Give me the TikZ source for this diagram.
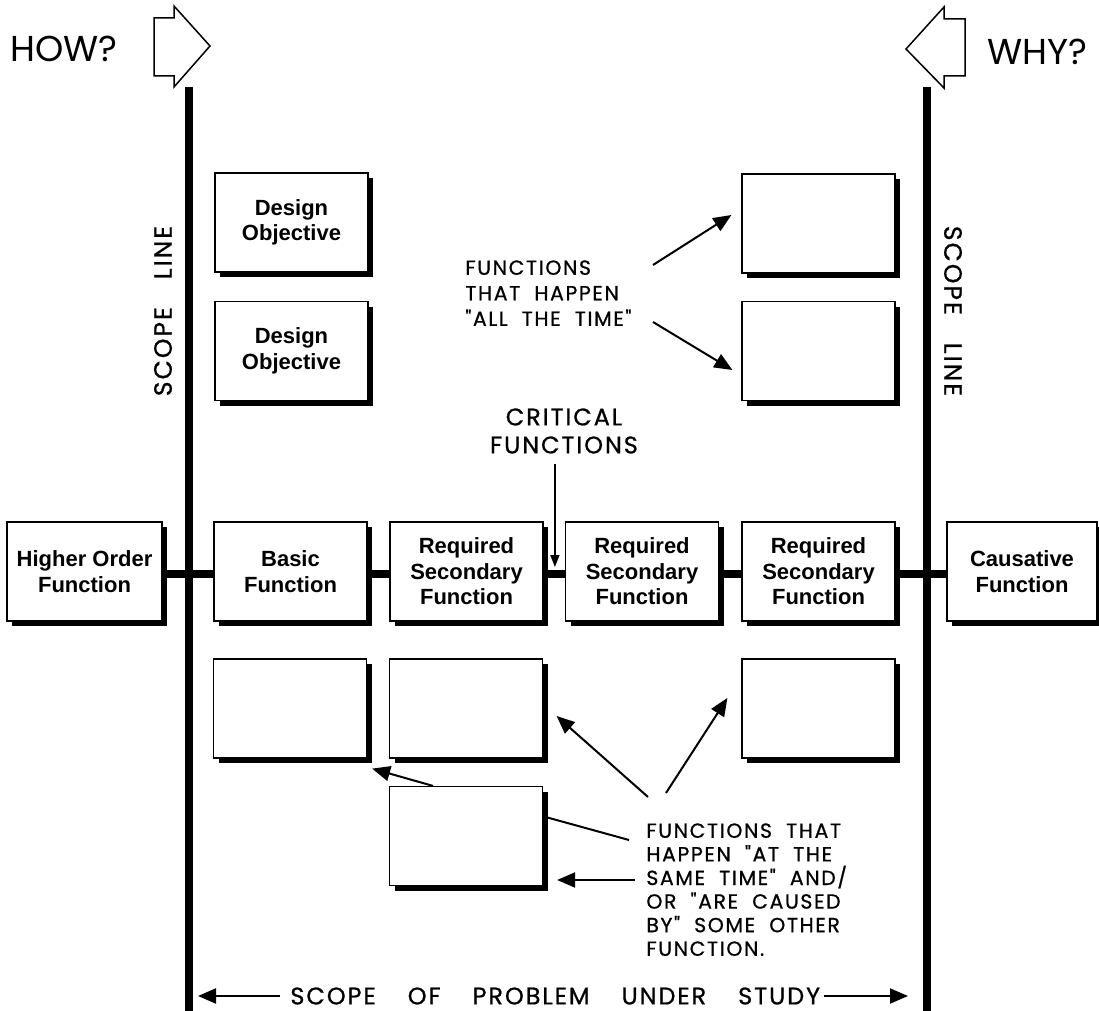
\documentclass[tikz,border=0pt]{standalone}
\usepackage{fontspec}
\setmainfont{Liberation Sans}
\newfontfamily\hand{Poppins}
\newfontfamily\handw[LetterSpace=8,FakeBold=0.8]{Poppins}
\usetikzlibrary{arrows.meta,shadows,calc}
\pgfdeclarelayer{bg}
\pgfsetlayers{bg,main}
\begin{document}
\begin{tikzpicture}[x=0.5pt,y=-0.5pt,
  fbox/.style={draw, line width=0.6pt, fill=white, minimum width=76.5pt, minimum height=49.5pt,
    inner sep=0pt, align=center, font=\bfseries\fontsize{11}{12.7}\selectfont,
    drop shadow={shadow xshift=2.5pt, shadow yshift=-2.5pt, fill=black, opacity=1}},
  bar/.style={line width=4pt},
  scopeline/.style={line width=3.75pt},
  note/.style={font=\handw\fontsize{10.2}{12.75}\selectfont, align=left, inner sep=0pt},
  pointer/.style={line width=1pt, -{Triangle[length=9pt,width=7.5pt]}},
  plainline/.style={line width=1pt},
  bigarrow/.style={line width=0.75pt, line join=miter}
]
\useasboundingbox (0,0) rectangle (1099,1011);

% HOW / WHY
\node[font=\hand\fontsize{18}{18}\selectfont, inner sep=0pt, anchor=west] (how) at (10,49) {HOW?};
\draw[bigarrow] (154,18) -- (174,18) -- (174,6) -- (210,46) -- (174,87) -- (174,76) -- (154,76) -- cycle;
\node[font=\hand\fontsize{18}{18}\selectfont, inner sep=0pt, anchor=west] (why) at (987,52) {WHY?};
\draw[bigarrow] (965,19) -- (944,19) -- (944,7) -- (906,49) -- (944,88) -- (944,76) -- (965,76) -- cycle;

% scope lines
\coordinate (sl1t) at (189,87);
\coordinate (sl1b) at (189,1011);
\coordinate (sl2t) at (927,87);
\coordinate (sl2b) at (927,1011);
\draw[scopeline] (sl1t) -- (sl1b);
\draw[scopeline] (sl2t) -- (sl2b);
\node[rotate=90, font=\handw\fontsize{12.5}{12.5}\selectfont, inner sep=0pt] (sll) at (163,311) {SCOPE\hspace{14pt}LINE};
\node[rotate=-90, font=\handw\fontsize{12.5}{12.5}\selectfont, inner sep=0pt] (slr) at (953,311) {SCOPE\hspace{14pt}LINE};

% boxes
\node[fbox] (do1) at (291.5,222.5) {Design\\Objective};
\node[fbox] (do2) at (291.5,351) {Design\\Objective};
\node[fbox] (tr1) at (818.5,223.5) {};
\node[fbox] (tr2) at (818.5,351) {};

\node[fbox, minimum width=77.5pt] (ho) at (84.5,571.5) {Higher Order\\Function};
\node[fbox] (bf) at (290.5,571.5) {Basic\\Function};
\node[fbox] (r1) at (466.5,571.5) {Required\\Secondary\\Function};
\node[fbox] (r2) at (642,571.5) {Required\\Secondary\\Function};
\node[fbox] (r3) at (818.5,571.5) {Required\\Secondary\\Function};
\node[fbox, minimum width=75pt] (cf) at (1022,571.5) {Causative\\Function};

\node[fbox] (a) at (290,708.5) {};
\node[fbox] (b) at (466,708.5) {};
\node[fbox] (trb) at (818.5,708.5) {};
\node[fbox] (c) at (466,836) {};

\begin{pgfonlayer}{bg}
\draw[bar] ($(ho.east)+(0,2.5)$) -- ($(cf.west)+(0,2.5)$);
\end{pgfonlayer}

% critical functions
\node[font=\handw\fontsize{12}{14}\selectfont, align=center, inner sep=0pt] (crit) at (564,431) {CRITICAL\\FUNCTIONS};
\draw[line width=0.75pt, -{Triangle[length=6pt,width=4.5pt]}] (crit.south -| r2.west) ++(-10,10) coordinate (critstart) -- ($(r2.west)+(-10,-4.5)$);

% all the time note
\node[note, anchor=north west] (n1) at (465,260) {FUNCTIONS\\THAT\ \ HAPPEN\\"ALL\ \ THE\ \ TIME"};
\coordinate (n1a) at (653,265);
\coordinate (n1b) at (653,322);
\draw[pointer] (n1a) -- ($(tr1.west)+(-10,-8.5)$);
\draw[pointer] (n1b) -- ($(tr2.west)+(-9,19)$);

% same time note
\node[note, anchor=north west, font=\handw\fontsize{10.2}{11.8}\selectfont] (n2) at (646,823) {FUNCTIONS\ \ THAT\\HAPPEN\ \ "AT\ \ THE\\SAME\ \ TIME"\ \ AND/\\OR\ \ "ARE\ \ CAUSED\\BY"\ \ SOME\ \ OTHER\\FUNCTION.};
\coordinate (n2a) at (648,797);
\coordinate (n2b) at (666,793);
\coordinate (n2c) at (629,840);
\coordinate (n2d) at (635,880);
\draw[pointer] (n2a) -- ($(b.east)+(13.5,7.5)$);
\draw[pointer] (n2b) -- ($(trb.west)+(-14,-10.5)$);
\draw[plainline] ($(c.east)+(2.5,-19)$) -- (n2c);
\draw[pointer] (n2d) -- ($(c.east)+(14,44)$);
\draw[pointer] ($(c.north)+(-33,0)$) -- ($(a.south east)+(5,10)$);

% scope of problem
\node[font=\handw\fontsize{12}{12}\selectfont, inner sep=0pt, anchor=west] (sc) at (290,996) {SCOPE\hspace{16pt}OF\hspace{16pt}PROBLEM\hspace{16pt}UNDER\hspace{16pt}STUDY};
\draw[pointer] ($(sc.west)+(-10,0)$) -- ($(sl1b |- sc.west)+(9,0)$);
\draw[pointer] ($(sc.east)+(3,0)$) -- ($(sl2b |- sc.east)+(-19,0)$);
\end{tikzpicture}
\end{document}
